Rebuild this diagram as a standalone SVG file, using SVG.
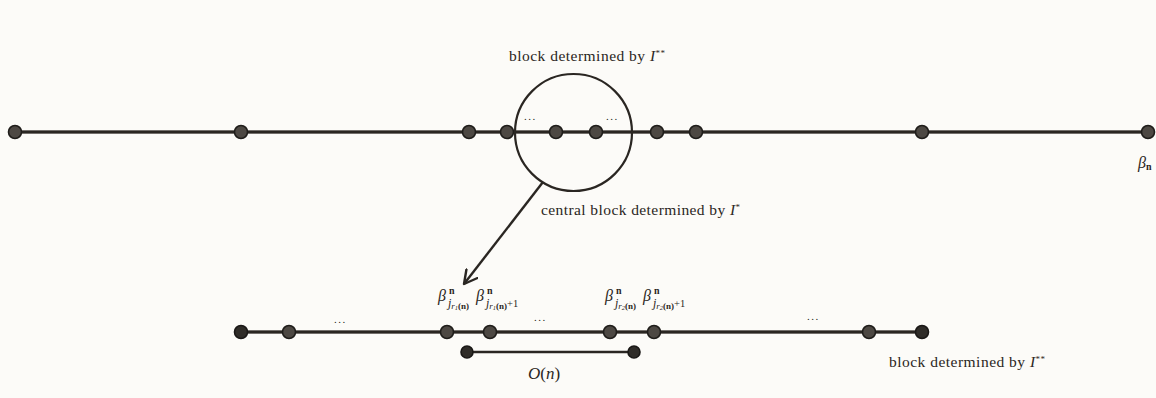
<svg xmlns="http://www.w3.org/2000/svg" width="1156" height="398" viewBox="0 0 1156 398">
<style>
.bg{fill:#fcfbf8}
.lnO{stroke:#8c8884;stroke-width:4;fill:none}
.ln{stroke:#2a2622;stroke-width:2.4;fill:none}
.nd{fill:#4d4843;stroke:#1f1d1a;stroke-width:1.6}
.ndk{fill:#2f2c28;stroke:#1a1816;stroke-width:1.6}
text{font-family:"Liberation Serif","DejaVu Serif",serif;fill:#2a2622}
.t{font-size:15.5px}
.i{font-style:italic}
.dots{font-size:11px;letter-spacing:1.5px}
.b{font-size:16px;font-style:italic}
.sup{font-size:10px;font-weight:bold}
.sub{font-size:12px;font-style:italic}
.s2{font-size:9px}
.s3{font-size:6.5px}
.pn{font-size:9px;font-style:normal;font-weight:bold}
.p1{font-size:10.5px;font-style:normal}
</style>
<defs>
<marker id="ah" viewBox="-14 -8 16 16" markerWidth="16" markerHeight="16" refX="0" refY="0" orient="auto" markerUnits="userSpaceOnUse">
<path d="M-13,-7 L0,0 L-13,7" fill="none" stroke="#2a2622" stroke-width="2.4" stroke-linecap="round" stroke-linejoin="round"/>
</marker>
</defs>
<rect class="bg" width="1156" height="398"/>
<g id="connectors">
<line class="lnO" x1="15" y1="132" x2="1148" y2="132"/>
<line class="ln" x1="15" y1="132" x2="1148" y2="132"/>
<line class="lnO" x1="241" y1="332" x2="922" y2="332"/>
<line class="ln" x1="241" y1="332" x2="922" y2="332"/>
<line class="ln" x1="467" y1="352" x2="634" y2="352"/>
<line class="ln" x1="543" y1="182" x2="464" y2="284" marker-end="url(#ah)"/>
</g>
<g id="top-line">
<circle class="nd" cx="15" cy="132" r="6.5"/>
<circle class="nd" cx="241" cy="132" r="6.5"/>
<circle class="nd" cx="469" cy="132" r="6.5"/>
<circle class="nd" cx="507" cy="132" r="6.5"/>
<circle class="nd" cx="556" cy="132" r="6.5"/>
<circle class="nd" cx="596" cy="132" r="6.5"/>
<circle class="nd" cx="657" cy="132" r="6.5"/>
<circle class="nd" cx="696" cy="132" r="6.5"/>
<circle class="nd" cx="922" cy="132" r="6.5"/>
<circle class="nd" cx="1148" cy="132" r="6.5"/>
<text class="dots" x="524" y="120">...</text>
<text class="dots" x="606" y="120">...</text>
<text class="b" x="1138" y="168">β<tspan class="sup" font-style="normal" dy="2">n</tspan></text>
</g>
<g id="zoom-circle">
<circle cx="573.5" cy="132.5" r="58.5" fill="none" stroke="#2a2622" stroke-width="2.2"/>
<text class="t" x="509" y="61" textLength="156" lengthAdjust="spacing">block determined by <tspan class="i">I</tspan><tspan font-size="9" dy="-5">**</tspan></text>
<text class="t" x="541" y="215" textLength="199" lengthAdjust="spacing">central block determined by <tspan class="i">I</tspan><tspan font-size="9" dy="-5">*</tspan></text>
</g>
<g id="bottom-line">
<circle class="ndk" cx="241" cy="332" r="6.5"/>
<circle class="nd" cx="289" cy="332" r="6.5"/>
<circle class="nd" cx="447" cy="332" r="6.5"/>
<circle class="nd" cx="490" cy="332" r="6.5"/>
<circle class="nd" cx="610" cy="332" r="6.5"/>
<circle class="nd" cx="654" cy="332" r="6.5"/>
<circle class="nd" cx="869" cy="332" r="6.5"/>
<circle class="ndk" cx="922" cy="332" r="6.5"/>
<text class="dots" x="334" y="323">...</text>
<text class="dots" x="534" y="321">...</text>
<text class="dots" x="807" y="320">...</text>
<text class="b" x="438" y="301">β</text>
<text class="sup" x="449" y="294">n</text>
<text class="sub" x="448" y="307">j<tspan class="s2" dy="2">r</tspan><tspan class="s3" dy="1">1</tspan><tspan class="pn" dy="-1">(n)</tspan></text>
<text class="b" x="476" y="301">β</text>
<text class="sup" x="487" y="294">n</text>
<text class="sub" x="486" y="307">j<tspan class="s2" dy="2">r</tspan><tspan class="s3" dy="1">1</tspan><tspan class="pn" dy="-1">(n)</tspan><tspan class="p1" dy="-2">+1</tspan></text>
<text class="b" x="605" y="301">β</text>
<text class="sup" x="616" y="294">n</text>
<text class="sub" x="615" y="307">j<tspan class="s2" dy="2">r</tspan><tspan class="s3" dy="1">2</tspan><tspan class="pn" dy="-1">(n)</tspan></text>
<text class="b" x="643" y="301">β</text>
<text class="sup" x="654" y="294">n</text>
<text class="sub" x="653" y="307">j<tspan class="s2" dy="2">r</tspan><tspan class="s3" dy="1">2</tspan><tspan class="pn" dy="-1">(n)</tspan><tspan class="p1" dy="-2">+1</tspan></text>
<text class="t" x="889" y="367" textLength="156" lengthAdjust="spacing">block determined by <tspan class="i">I</tspan><tspan font-size="9" dy="-5">**</tspan></text>
</g>
<g id="O-segment">
<circle class="ndk" cx="467" cy="352" r="6"/>
<circle class="ndk" cx="634" cy="352" r="6"/>
<text x="544" y="379" text-anchor="middle" font-size="17"><tspan class="i">O</tspan>(<tspan class="i">n</tspan>)</text>
</g>
</svg>
